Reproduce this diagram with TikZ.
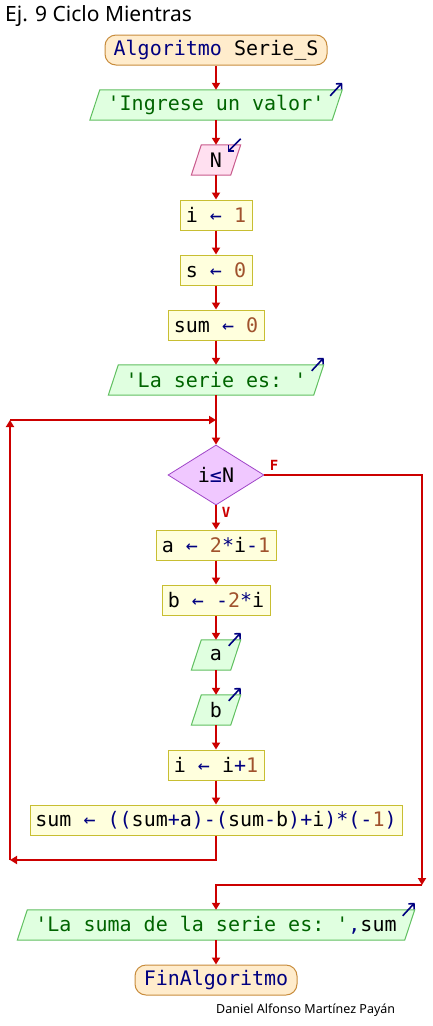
\documentclass[tikz,border=0pt]{standalone}
\usepackage{fontspec}
\setmonofont{DejaVu Sans Mono}
\newfontfamily\ui{Noto Sans}
\usetikzlibrary{arrows.meta,calc,shapes.geometric,backgrounds}
\definecolor{flowred}{RGB}{204,0,0}
\definecolor{kwc}{RGB}{0,0,128}
\definecolor{numc}{RGB}{160,82,45}
\definecolor{strc}{RGB}{0,100,0}
\definecolor{termF}{RGB}{255,236,204}
\definecolor{termB}{RGB}{200,140,60}
\definecolor{outF}{RGB}{224,255,224}
\definecolor{outB}{RGB}{96,192,96}
\definecolor{inF}{RGB}{255,224,240}
\definecolor{inB}{RGB}{200,90,140}
\definecolor{procF}{RGB}{255,255,221}
\definecolor{procB}{RGB}{200,190,50}
\definecolor{decF}{RGB}{240,200,255}
\definecolor{decB}{RGB}{160,70,200}
\newcommand{\kw}[1]{\textcolor{kwc}{#1}}
\newcommand{\nm}[1]{\textcolor{numc}{#1}}
\newcommand{\st}[1]{\textcolor{strc}{#1}}
\newcommand{\ar}{\kw{←}}
\begin{document}
\begin{tikzpicture}[x=1pt,y=-1pt,
  code/.style={font=\ttfamily\fontsize{20}{24}\selectfont},
  term/.style={code,draw=termB,fill=termF,line width=1,rounded corners=11,minimum height=30,inner sep=0},
  proc/.style={code,draw=procB,fill=procF,line width=1,minimum height=30,inner sep=0},
  io/.style={code,minimum height=30,inner sep=0},
  dec/.style={code,shape=diamond,draw=decB,fill=decF,line width=0.8,minimum width=96,minimum height=60,inner sep=0},
  flow/.style={draw=flowred,line width=2,-{Triangle[length=7,width=8]}},
  icon/.style={draw=kwc,line width=1.6,-{Straight Barb[length=4,width=8]}},
  lbl/.style={text=flowred,font=\ttfamily\bfseries\fontsize{14}{16}\selectfont,inner sep=0}
]
\useasboundingbox (0,0) rectangle (432,1026);
\node[anchor=base west,inner sep=0,font=\ui\fontsize{21}{25}\selectfont] (title) at (5,21) {Ej. 9 Ciclo Mientras};

\node[term,minimum width=222] (start) at (216,50) {\kw{Algoritmo} Serie\_S};
\node[io,minimum width=242] (o1) at (216,105) {\st{'Ingrese un valor'}};
\node[io,minimum width=39] (in) at (216,160) {N};
\node[proc,minimum width=72] (p1) at (216,215) {i \ar{} \nm{1}};
\node[proc,minimum width=72] (p2) at (216,270) {s \ar{} \nm{0}};
\node[proc,minimum width=96] (p3) at (216,325) {sum \ar{} \nm{0}};
\node[io,minimum width=205] (o2) at (216,380) {\st{'La serie es: '}};
\node[dec] (cond) at (216,475) {i\kw{≤}N};
\node[proc,minimum width=120] (p4) at (216,545) {a \ar{} \nm{2}\kw{*}i\kw{-}\nm{1}};
\node[proc,minimum width=108] (p5) at (216,600) {b \ar{} \kw{-}\nm{2}\kw{*}i};
\node[io,minimum width=39] (o3) at (216,655) {a};
\node[io,minimum width=39] (o4) at (216,710) {b};
\node[proc,minimum width=96] (p6) at (216,765) {i \ar{} i\kw{+}\nm{1}};
\node[proc,minimum width=372] (p7) at (216,820) {sum \ar{} \kw{((}sum\kw{+}a\kw{)-(}sum\kw{-}b\kw{)+}i\kw{)*(-}\nm{1}\kw{)}};
\node[io,minimum width=387] (o5) at (216,925) {\st{'La suma de la serie es: '}\kw{,}sum};
\node[term,minimum width=162] (fin) at (216,980) {\kw{FinAlgoritmo}};

\node[anchor=base west,inner sep=0,font=\ui\fontsize{12.5}{15}\selectfont] (author) at (216,1013) {Daniel Alfonso Martínez Payán};

\begin{scope}[on background layer]
  \fill[white] (0,0) rectangle (432,1026);
  \foreach \n in {o1,o2,o3,o4,o5}{
    \draw[draw=outB,fill=outF,line width=1] ($(\n.north west)+(5,0)$) -- ($(\n.north east)+(5,0)$) -- ($(\n.south east)+(-5,0)$) -- ($(\n.south west)+(-5,0)$) -- cycle;
  }
  \draw[draw=inB,fill=inF,line width=1] ($(in.north west)+(5,0)$) -- ($(in.north east)+(5,0)$) -- ($(in.south east)+(-5,0)$) -- ($(in.south west)+(-5,0)$) -- cycle;
\end{scope}

% output/input icons
\foreach \n in {o1,o2,o3,o4,o5}{
  \draw[icon] ($(\n.north east)+(5,0)+(-12,6)$) -- ($(\n.north east)+(5,0)+(0,-7)$);
}
\draw[icon] ($(in.north east)+(5,0)+(0,-6)$) -- ($(in.north east)+(5,0)+(-13,7)$);

% flow
\draw[flow] (start) -- (o1);
\draw[flow] (o1) -- (in);
\draw[flow] (in) -- (p1);
\draw[flow] (p1) -- (p2);
\draw[flow] (p2) -- (p3);
\draw[flow] (p3) -- (o2);
\draw[flow] (o2) -- (cond);
\draw[flow] (cond) -- (p4);
\draw[flow] (p4) -- (p5);
\draw[flow] (p5) -- (o3);
\draw[flow] (o3) -- (o4);
\draw[flow] (o4) -- (p6);
\draw[flow] (p6) -- (p7);

\coordinate (lb) at (10,860);
\coordinate (lt) at (10,420);
\coordinate (join) at (216,420);
\coordinate (fr) at (422,885);
\draw[flow] (p7.south) |- (lb);
\draw[flow] (lb) -- (lt);
\draw[flow] (lt) -- (join);
\draw[flow] (cond.east) -| (fr);
\draw[flow] (fr) -| (o5.north);
\draw[flow] (o5) -- (fin);

\node[lbl] (lf) at (274,465) {F};
\node[lbl] (lv) at (226,512) {V};
\end{tikzpicture}
\end{document}
